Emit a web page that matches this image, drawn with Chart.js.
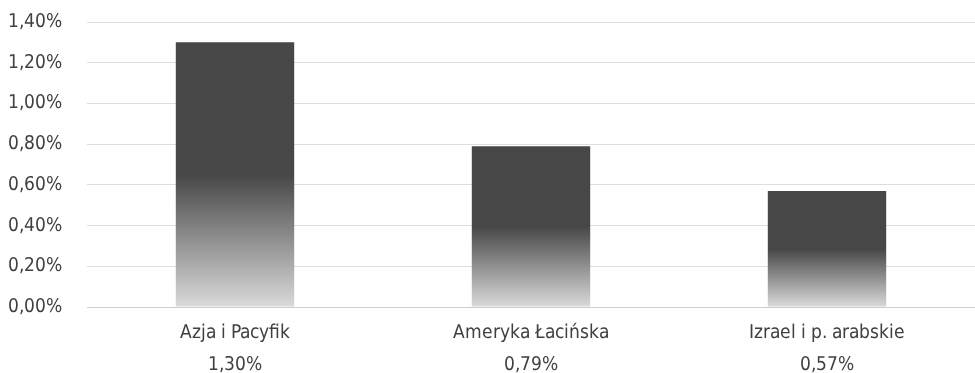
<!DOCTYPE html>
<html>
<head>
<meta charset="utf-8">
<script src="https://cdn.jsdelivr.net/npm/chart.js@4"></script>
<style>
@font-face{
  font-family:"CondSans";
  src:local("Liberation Sans Narrow"),local("LiberationSansNarrow"),local("LiberationSansNarrow-Regular"),local("DejaVu Sans Condensed"),local("DejaVuSansCondensed");
}
html,body{margin:0;padding:0;background:#fff;}
#wrap{width:975px;height:373px;}
</style>
</head>
<body>
<div id="wrap"><canvas id="chart" width="975" height="373"></canvas></div>
<script>
const categories = ["Azja i Pacyfik", "Ameryka Łacińska", "Izrael i p. arabskie"];
const values = [1.30, 0.79, 0.57];
const yTicks = [0, 0.2, 0.4, 0.6, 0.8, 1.0, 1.2, 1.4];

function formatPct(v){
  return v.toFixed(2).replace(".", ",") + "%";
}

const FONT = "CondSans, 'DejaVu Sans Condensed', sans-serif";

function barGradient(ctx){
  const chart = ctx.chart;
  const area = chart.chartArea;
  if(!area || ctx.type !== "data") return "#474747";
  const y = chart.scales.y;
  const top = y.getPixelForValue(values[ctx.dataIndex]);
  const bottom = y.getPixelForValue(0);
  const g = chart.ctx.createLinearGradient(0, top, 0, bottom);
  g.addColorStop(0, "#474747");
  g.addColorStop(0.5, "#474747");
  g.addColorStop(1, "#dadada");
  return g;
}

function drawChart(){
new Chart(document.getElementById("chart"), {
  type: "bar",
  data: {
    labels: categories.map((c, i) => [c, formatPct(values[i])]),
    datasets: [{
      data: values,
      backgroundColor: barGradient,
      borderWidth: 0,
      categoryPercentage: 1,
      barPercentage: 0.4
    }]
  },
  options: {
    responsive: false,
    animation: false,
    layout: { padding: { top: 22, right: 0, left: 0, bottom: 0 } },
    plugins: { legend: { display: false }, tooltip: { enabled: false } },
    scales: {
      x: {
        grid: { display: false },
        border: { color: "#cccccc", width: 1 },
        ticks: {
          color: "#404040",
          font: { family: FONT, size: 19, lineHeight: 1.7 },
          padding: 2,
          maxRotation: 0
        },
        afterFit: s => { s.height = 66; s.paddingLeft = 0; s.paddingRight = 0; }
      },
      y: {
        min: 0,
        max: 1.4,
        afterBuildTicks: s => { s.ticks = yTicks.map(v => ({ value: v })); },
        grid: { color: "#dedede", drawTicks: false },
        border: { display: false },
        ticks: {
          color: "#404040",
          font: { family: FONT, size: 19 },
          padding: 25,
          callback: v => formatPct(v)
        },
        afterFit: s => { s.width = 87; s.paddingTop = 0; s.paddingBottom = 0; }
      }
    }
  }
});
}

document.fonts.load("19px CondSans").then(drawChart, drawChart);
</script>
</body>
</html>
